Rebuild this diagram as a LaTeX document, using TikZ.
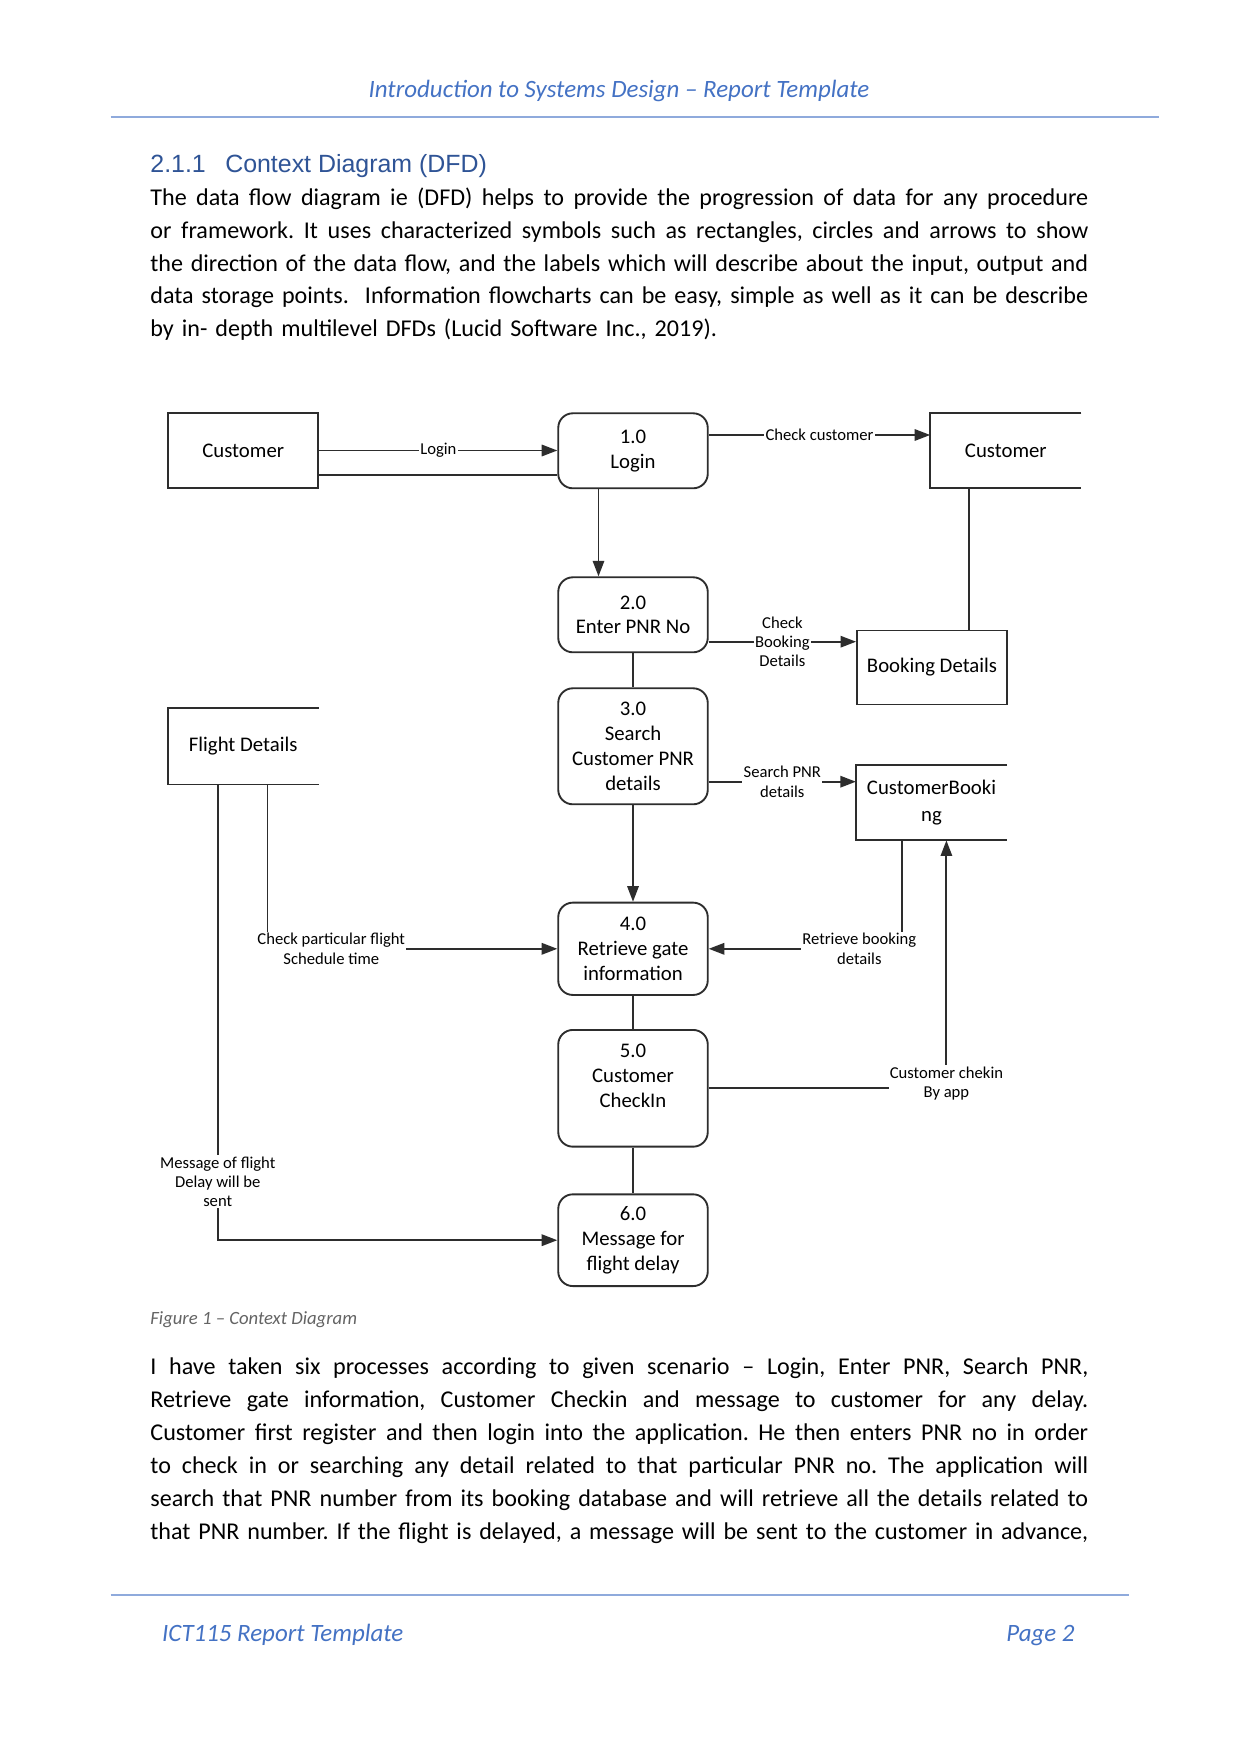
\documentclass[tikz,border=0pt]{standalone}
\usepackage{fontspec}
\setmainfont{Carlito}
\newfontfamily\headfont{Liberation Sans}
\usetikzlibrary{arrows.meta,calc}
\definecolor{hdrblue}{RGB}{68,114,196}
\definecolor{rulelight}{RGB}{143,170,220}
\definecolor{headblue}{RGB}{47,84,150}
\definecolor{capgray}{RGB}{100,100,100}
\definecolor{ink}{RGB}{45,45,45}
\newcommand{\myjust}[1]{\leavevmode\hbox to 15.87cm{\spaceskip=0.226em plus 1fil minus 0.12em\relax #1}}
\begin{document}
\frenchspacing
\begin{tikzpicture}[x=0.016922cm,y=-0.016922cm,
  proc/.style={draw=ink, line width=0.9pt, rounded corners=7pt, minimum width=2.53cm, align=center, inner sep=0pt, font=\fontsize{10}{12}\selectfont},
  storefull/.style={draw=ink, line width=0.9pt, minimum width=2.545cm, minimum height=1.259cm, align=center, inner sep=0pt, font=\fontsize{10}{13}\selectfont},
  storeopen/.style={minimum width=2.545cm, minimum height=1.259cm, align=center, inner sep=0pt, font=\fontsize{10}{13}\selectfont},
  sline/.style={draw=ink, line width=0.9pt},
  flow/.style={draw=ink, line width=0.9pt, -{Triangle[length=7.5pt,width=5.5pt]}},
  lbl/.style={fill=white, inner sep=0.6pt, align=center, font=\fontsize{8}{9.3}\selectfont},
  pagetext/.style={anchor=base west, inner sep=0pt}]
\fill[white] (0,0) rectangle (1241,1754);
\useasboundingbox (0,0) rectangle (1241,1754);

% header
\node[anchor=base, inner sep=0pt, font=\fontsize{12}{14}\selectfont\itshape, text=hdrblue] (hdr) at (619,97.3) {Introduction to Systems Design – Report Template};
\draw[rulelight, line width=0.8pt] (110.5,117) -- (1159.3,117);

% heading
\node[pagetext, font=\headfont\fontsize{12}{14}\selectfont, text=headblue] (head) at (150,172.7) {\makebox[1.267cm][l]{2.1.1}Context Diagram (DFD)};

% paragraph 1
\node[pagetext, text width=15.87cm, align=left, font=\fontsize{11.6}{15.77}\selectfont\frenchspacing] (para1) at (150,205.7) {%
\myjust{The data flow diagram ie (DFD) helps to provide the progression of data for any procedure}\\
\myjust{or framework. It uses characterized symbols such as rectangles, circles and arrows to show}\\
\myjust{the direction of the data flow, and the labels which will describe about the input, output and}\\
\myjust{data storage points.\ \ Information flowcharts can be easy, simple as well as it can be describe}\\
by in- depth multilevel DFDs (Lucid Software Inc., 2019).};

% processes
\node[proc, minimum height=1.269cm] (p1) at (633,450.8) {1.0\\Login};
\node[proc, minimum height=1.269cm] (p2) at (633,614.8) {2.0\\Enter PNR No};
\node[proc, minimum height=1.963cm] (p3) at (633,746.3) {3.0\\Search\\Customer PNR\\details};
\node[proc, minimum height=1.562cm] (p4) at (633,948.8) {4.0\\Retrieve gate\\information};
\node[proc, minimum height=1.975cm] (p5) at (633,1088.3) {5.0\\Customer\\CheckIn\\\mbox{}};
\node[proc, minimum height=1.552cm] (p6) at (633,1240.2) {6.0\\Message for\\flight delay};

% stores
\node[storefull] (cl) at (243.2,450.5) {Customer};
\node[storeopen] (cr) at (1005.8,450.5) {Customer};
\node[storefull, minimum width=2.538cm, minimum height=1.252cm] (bd) at (932,667.5) {Booking Details};
\node[storeopen] (cb) at (931.5,802.8) {CustomerBooki\\ng};
\node[storeopen, minimum height=1.281cm] (fd) at (243.2,746.2) {Flight Details};
\draw[sline] (cr.north east) -- (cr.north west) -- (cr.south west) -- (cr.south east);
\draw[sline] (cb.north east) -- (cb.north west) -- (cb.south west) -- (cb.south east);
\draw[sline] (fd.north east) -- (fd.north west) -- (fd.south west) -- (fd.south east);

% connectors
\draw[flow] (cl.east) -- node[lbl]{Login} (cl.east -| p1.west);
\coordinate (c1) at ($(cl.south east)+(0,-13.7)$);
\draw[sline] (c1) -- (c1 -| p1.west);

\coordinate (c2) at ($(p1.east)+(0,-15.8)$);
\draw[flow] (c2) -- node[lbl]{Check customer} (c2 -| cr.west);

\coordinate (c3) at ($(p1.south)+(-34.5,0)$);
\draw[flow] (c3) -- (c3 |- p2.north);

\coordinate (c4) at ($(cr.south)+(-36.8,0)$);
\draw[sline] (c4) -- (c4 |- bd.north);

\coordinate (c5) at ($(p2.east)+(0,26.9)$);
\draw[flow] (c5) -- node[lbl]{Check\\Booking\\Details} (c5 -| bd.west);

\draw[sline] (p2.south) -- (p3.north);

\coordinate (c6) at ($(p3.east)+(0,35.4)$);
\draw[flow] (c6) -- node[lbl]{Search PNR\\details} (c6 -| cb.west);

\draw[flow] (p3.south) -- (p4.north);

\coordinate (c7) at ($(fd.south)+(24.3,0)$);
\draw[flow] (c7) |- node[lbl, pos=0.61]{Check particular flight\\Schedule time} (p4.west);

\coordinate (c8) at ($(cb.south)+(-29.7,0)$);
\draw[flow] (c8) |- node[lbl, pos=0.61]{Retrieve booking\\details} (p4.east);

\draw[sline] (p4.south) -- (p5.north);

\coordinate (c9) at ($(cb.south)+(14.9,0)$);
\draw[flow] (p5.east) -| node[lbl, pos=0.51]{Customer chekin\\By app} (c9);

\draw[sline] (p5.south) -- (p6.north);

\coordinate (c10) at ($(fd.south)+(-25.5,0)$);
\draw[flow] (c10) |- node[lbl, pos=0.436]{Message of flight\\Delay will be\\sent} (p6.west);

% caption
\node[pagetext, font=\fontsize{9}{11}\selectfont\itshape, text=capgray] (cap) at (150,1324) {Figure 1 – Context Diagram};

% paragraph 2
\node[pagetext, text width=15.87cm, align=left, font=\fontsize{11.6}{15.92}\selectfont\frenchspacing] (para2) at (150,1374) {%
\myjust{I have taken six processes according to given scenario – Login, Enter PNR, Search PNR,}\\
\myjust{Retrieve gate information, Customer Checkin and message to customer for any delay.}\\
\myjust{Customer first register and then login into the application. He then enters PNR no in order}\\
\myjust{to check in or searching any detail related to that particular PNR no. The application will}\\
\myjust{search that PNR number from its booking database and will retrieve all the details related to}\\
\myjust{that PNR number. If the flight is delayed, a message will be sent to the customer in advance,}};

% footer
\draw[rulelight, line width=0.8pt] (110.5,1595.3) -- (1129,1595.3);
\node[pagetext, font=\fontsize{12}{14}\selectfont\itshape, text=hdrblue] (foot1) at (161.7,1641.7) {ICT115 Report Template};
\node[anchor=base east, inner sep=0pt, font=\fontsize{12}{14}\selectfont\itshape, text=hdrblue] (foot2) at (1075,1641.7) {Page 2};
\end{tikzpicture}
\end{document}
